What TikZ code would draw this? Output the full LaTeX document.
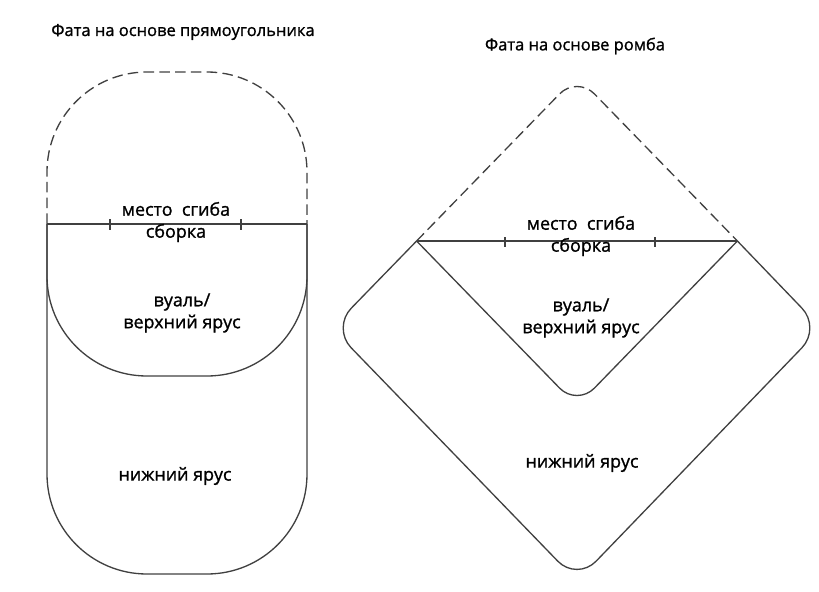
\documentclass[tikz,border=0pt]{standalone}
\usepackage{fontspec}
\setmainfont{Open Sans}
\newfontfamily\heavyfont[FakeBold=1.2]{Open Sans}
\usepackage{tikz}

\begin{document}
\begin{tikzpicture}[x=0.02cm, y=-0.02cm,
outline/.style={draw=black!75, line width=0.75pt},
hidden/.style={outline, dash pattern=on 6pt off 3pt},
tick/.style={draw=black!75, line width=0.6pt},
title/.style={font=\heavyfont\fontsize{9.4}{11}\selectfont},
label/.style={align=center, font=\heavyfont\fontsize{10.2}{12.5}\selectfont, inner sep=0pt}]

\useasboundingbox (0,0) rectangle (819,592);

% rectangle based veil
\coordinate (rl) at (47,224);
\coordinate (rr) at (307,224);
\draw[hidden, rounded corners=2cm] (rl) -- (47,72) -- (307,72) -- (rr);
\draw[outline, rounded corners=2cm] (rl) -- (47,574) -- (307,574) -- (rr);
\draw[outline, rounded corners=2cm] (rl) -- (47,376) -- (307,376) -- (rr);
\draw[outline] (rl) -- (rr);
\foreach \x in {110,241}
  \draw[tick] (\x,219) -- (\x,230);
\node[title] (titleL) at (183,32) {Фата на основе прямоугольника};
\node[label] (foldL) at (176,222) {место~ сгиба\\сборка};
\node[label] (veilL) at (182,313) {вуаль/\\верхний ярус};
\node[label] (lowL) at (175,476) {нижний ярус};

% rhombus based veil
\coordinate (dl) at (416.6,241);
\coordinate (dr) at (737.4,241);
\draw[hidden, rounded corners=0.5cm] (dl) -- (577,76) -- (dr);
\draw[outline, rounded corners=0.55cm] (dl) -- (332,328) -- (577,581) -- (821,328) -- (dr);
\draw[outline, rounded corners=0.5cm] (dl) -- (577,406) -- (dr);
\draw[outline] (dl) -- (dr);
\foreach \x in {505,655}
  \draw[tick] (\x,237) -- (\x,247);
\node[title] (titleR) at (575,46) {Фата на основе ромба};
\node[label] (foldR) at (581,236) {место~ сгиба\\сборка};
\node[label] (veilR) at (581,318) {вуаль/\\верхний ярус};
\node[label] (lowR) at (582,463) {нижний ярус};
\end{tikzpicture}
\end{document}
